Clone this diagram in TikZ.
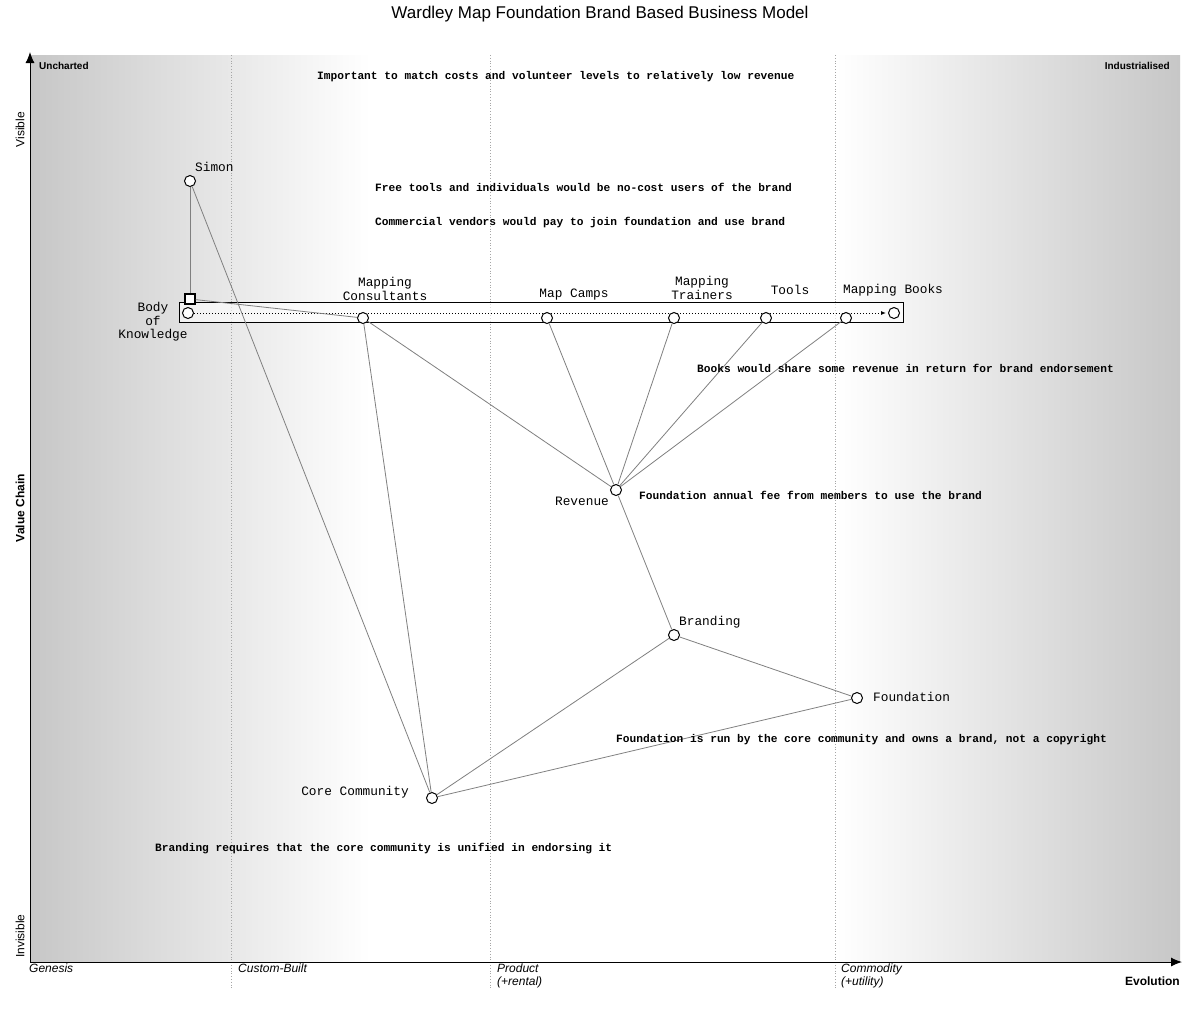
\documentclass[tikz,border=0pt]{standalone}
\usepackage{fontspec}
\setmainfont{Liberation Sans}
\newfontfamily\monof{Liberation Mono}
\usetikzlibrary{arrows.meta}
\tikzset{
 comp/.style={circle,draw,fill=white,inner sep=0pt,minimum size=11pt,line width=1pt},
 lab/.style={font=\monof\fontsize{12.8}{13.5}\selectfont,align=center,inner sep=1pt},
 note/.style={font=\monof\bfseries\fontsize{11.2}{12}\selectfont,anchor=west,inner sep=0pt},
 link/.style={draw=gray,line width=0.8pt},
 stage/.style={font=\itshape\fontsize{12}{12.5}\selectfont,anchor=north west,align=left,inner sep=0pt},
}
\begin{document}
\begin{tikzpicture}[x=1pt,y=-1pt]
\useasboundingbox (0,0) rectangle (1200,1013);
\fill[white] (0,0) rectangle (1200,1013);
\shade[left color=black!22,right color=white] (30,55) rectangle (370,962);
\shade[left color=white,right color=black!22] (835,55) rectangle (1180,962);
\foreach \x in {231,490,835} \draw[gray!70,dotted,line width=0.8pt] (\x,55) -- (\x,988);
\draw[line width=1pt,-{Latex[length=11pt,width=9pt]}] (30,962) -- (30,52);
\draw[line width=1pt,-{Latex[length=11pt,width=9pt]}] (30,962) -- (1182,962);
\node[font=\fontsize{17}{19}\selectfont] at (600,14) {Wardley Map Foundation Brand Based Business Model};
\node[font=\bfseries\fontsize{10}{11}\selectfont,anchor=west,inner sep=0pt] at (39,66) {Uncharted};
\node[font=\bfseries\fontsize{10}{11}\selectfont,anchor=east,inner sep=0pt] at (1170,66) {Industrialised};
\node[font=\fontsize{12}{13}\selectfont,rotate=90,anchor=east,inner sep=0pt] at (20,112) {Visible};
\node[font=\fontsize{12}{13}\selectfont,rotate=90,anchor=west,inner sep=0pt] at (20,958) {Invisible};
\node[font=\bfseries\fontsize{12}{13}\selectfont,rotate=90] at (20,508) {Value Chain};
\node[font=\bfseries\fontsize{12}{13}\selectfont,anchor=east,inner sep=0pt] at (1180,981) {Evolution};
\node[stage] at (29,964) {Genesis};
\node[stage] at (238,964) {Custom-Built};
\node[stage] at (497,964) {Product\\(+rental)};
\node[stage] at (841,964) {Commodity\\(+utility)};
% pipeline
\draw[line width=1pt,fill=white,fill opacity=0.6] (179,302) rectangle (903,322);
\coordinate (pe) at (886,313);
% components
\node[comp] (simon) at (190,181) {};
\node[draw,fill=white,line width=1.5pt,inner sep=0pt,minimum size=10pt] (bok) at (190,299) {};
\node[comp] (bokc) at (188,313) {};
\node[comp] (pend) at (894,313) {};
\draw[dotted,line width=1pt,-{Latex[length=5pt,width=4pt]}] (bokc) -- (pe);
\node[comp] (mc) at (363,318) {};
\node[comp] (camps) at (547,318) {};
\node[comp] (tr) at (674,318) {};
\node[comp] (tools) at (766,318) {};
\node[comp] (books) at (846,318) {};
\node[comp] (rev) at (616,490) {};
\node[comp] (brand) at (674,635) {};
\node[comp] (found) at (857,698) {};
\node[comp] (core) at (432,798) {};
\path[link] (simon) -- (bok);
\path[link] (simon) -- (core);
\path[link] (bok) -- (mc);
\path[link] (mc) -- (rev);
\path[link] (mc) -- (core);
\path[link] (camps) -- (rev);
\path[link] (tr) -- (rev);
\path[link] (tools) -- (rev);
\path[link] (books) -- (rev);
\path[link] (rev) -- (brand);
\path[link] (brand) -- (found);
\path[link] (brand) -- (core);
\path[link] (found) -- (core);
% labels
\node[lab,anchor=west] at (194,167) {Simon};
\node[lab] at (153,322) {Body\\of\\Knowledge};
\node[lab] at (385,289) {Mapping\\Consultants};
\node[lab] at (574,295) {Map Camps};
\node[lab] at (702,288) {Mapping\\Trainers};
\node[lab] at (790,290) {Tools};
\node[lab] at (893,290) {Mapping Books};
\node[lab] at (582,501) {Revenue};
\node[lab,anchor=west] at (678,622) {Branding};
\node[lab,anchor=west] at (872,697) {Foundation};
\node[lab,anchor=east] at (410,792) {Core Community};
% notes
\node[note] at (317,77) {Important to match costs and volunteer levels to relatively low revenue};
\node[note] at (375,187) {Free tools and individuals would be no-cost users of the brand};
\node[note] at (375,223) {Commercial vendors would pay to join foundation and use brand};
\node[note] at (697,368) {Books would share some revenue in return for brand endorsement};
\node[note] at (639,495) {Foundation annual fee from members to use the brand};
\node[note] at (616,740) {Foundation is run by the core community and owns a brand, not a copyright};
\node[note] at (155,849) {Branding requires that the core community is unified in endorsing it};
\end{tikzpicture}
\end{document}
